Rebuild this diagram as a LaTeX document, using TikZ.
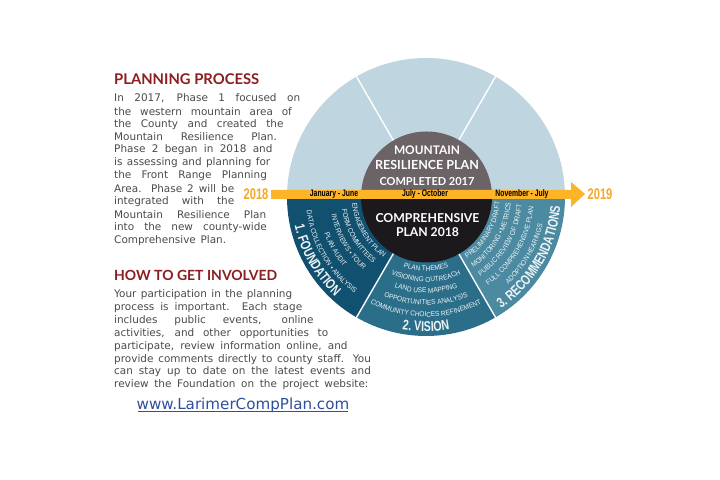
\documentclass[tikz,border=0pt]{standalone}
\usepackage{fontspec}
\usepackage{graphicx}
\usetikzlibrary{decorations.text}
\setmainfont{DejaVu Sans}
\newfontfamily\headfont{Lato}
\newfontfamily\condfont[FakeStretch=0.72]{Liberation Sans}
\newfontfamily\labelfont[FakeStretch=0.92]{Liberation Sans}
\newfontfamily\titlefont[FakeStretch=0.75]{Liberation Sans}
\definecolor{bodygray}{HTML}{4A4A4A}
\definecolor{headred}{HTML}{8C1D20}
\definecolor{linkblue}{HTML}{2F4F9E}
\definecolor{lightseg}{HTML}{BFD5DF}
\definecolor{segA}{HTML}{11506F}
\definecolor{segB}{HTML}{2B6E89}
\definecolor{segC}{HTML}{4C8AA1}
\definecolor{topgray}{HTML}{6B6365}
\definecolor{botblack}{HTML}{1B191C}
\definecolor{bandorange}{HTML}{FDB427}
\definecolor{yearorange}{HTML}{F6A821}
\definecolor{lbl}{HTML}{EDF3F6}
\tikzset{
  bodyline/.style={anchor=west,inner sep=0pt,text=bodygray,font=\fontsize{10.5}{12}\selectfont},
  heading/.style={anchor=base west,inner sep=0pt,text=headred,font=\headfont\bfseries\fontsize{14.5}{16}\selectfont},
  circletext/.style={inner sep=0pt,text=white,font=\headfont\bfseries},
  bandlabel/.style={inner sep=0pt,text=black,font=\condfont\bfseries\fontsize{9.5}{11}\selectfont},
  yearlabel/.style={inner sep=0pt,text=yearorange,font=\condfont\bfseries\fontsize{15.5}{17}\selectfont},
  sepline/.style={draw=white,line width=1.4pt}
}
\newcommand{\bline}[4]{\node[bodyline] (#1) at (114,#2) {\makebox[#3bp][s]{#4}};}
\newcommand{\arclabel}[5]{% radius, start, end, font, text
  \path[decorate,decoration={text along path,text align=center,text color=lbl,
    text={|#4|#5}}] (#2:#1) arc[start angle=#2,end angle=#3,radius=#1];}
\newcommand{\smallf}{\labelfont\fontsize{7.1}{9}\selectfont}
\newcommand{\bigf}{\titlefont\bfseries\fontsize{14.2}{16}\selectfont}
\begin{document}
\begin{tikzpicture}[x=1bp,y=1bp]
\useasboundingbox (0,0) rectangle (720,480);
\fill[white] (0,0) rectangle (720,480);
\begin{scope}[shift={(426,283)}]
  \fill[lightseg] (180:139) arc[start angle=180,end angle=0,radius=139] -- cycle;
  \fill[segA] (0,0) -- (180:139) arc[start angle=180,end angle=240,radius=139] -- cycle;
  \fill[segB] (0,0) -- (240:139) arc[start angle=240,end angle=300,radius=139] -- cycle;
  \fill[segC] (0,0) -- (300:139) arc[start angle=300,end angle=360,radius=139] -- cycle;
  \foreach \a in {60,120,240,300} \draw[sepline] (\a:60) -- (\a:139.5);
  \fill[topgray] (0.5,0) ++(180:65.5) arc[start angle=180,end angle=0,radius=65.5] -- cycle;
  \fill[botblack] (0.5,0) ++(180:65.5) arc[start angle=180,end angle=360,radius=65.5] -- cycle;
  % sector 1
  \arclabel{74}{180}{240}{\smallf}{ENGAGEMENT PLAN}
  \arclabel{85}{180}{240}{\smallf}{FORM COMMITTEES}
  \arclabel{96}{180}{240}{\smallf}{INTERVIEWS • TOUR}
  \arclabel{108}{180}{240}{\smallf}{PLAN AUDIT}
  \arclabel{120}{180}{240}{\smallf}{DATA COLLECTION • ANALYSIS}
  \arclabel{134.5}{180}{240}{\bigf}{1. FOUNDATION}
  % sector 2
  \arclabel{74}{240}{300}{\smallf}{PLAN THEMES}
  \arclabel{85}{240}{300}{\smallf}{VISIONING OUTREACH}
  \arclabel{96}{240}{300}{\smallf}{LAND USE MAPPING}
  \arclabel{108}{240}{300}{\smallf}{OPPORTUNITIES ANALYSIS}
  \arclabel{120}{240}{300}{\smallf}{COMMUNITY CHOICES REFINEMENT}
  \arclabel{134.5}{240}{300}{\bigf}{2. VISION}
  % sector 3
  \arclabel{74}{300}{360}{\smallf}{PRELIMINARY DRAFT}
  \arclabel{85}{300}{360}{\smallf}{MONITORING • METRICS}
  \arclabel{96}{300}{360}{\smallf}{PUBLIC REVIEW OF DRAFT}
  \arclabel{108}{300}{360}{\smallf}{FULL COMPREHENSIVE PLAN}
  \arclabel{120}{300}{360}{\smallf}{ADOPTION HEARINGS}
  \arclabel{134.5}{300}{360}{\bigf}{3. RECOMMENDATIONS}
\end{scope}
% band and arrow
\fill[bandorange] (271,290) -- (571,290) -- (571,298) -- (585,286) -- (571,273) -- (571,281) -- (271,281) -- cycle;
\node[bandlabel] (jan) at (334,286) {January - June};
\node[bandlabel] (jul) at (425,286) {July - October};
\node[bandlabel] (nov) at (522,286) {November - July};
\node[yearlabel] (y18) at (256,286) {2018};
\node[yearlabel] (y19) at (600,286) {2019};
% centre texts
\node[circletext] (t1) at (427,330) {\resizebox{66bp}{!}{MOUNTAIN}};
\node[circletext] (t2) at (427,315) {\resizebox{104bp}{!}{RESILIENCE PLAN}};
\node[circletext] (t3) at (427,298) {\resizebox{95bp}{!}{COMPLETED 2017}};
\node[circletext] (t4) at (427.5,262) {\resizebox{104bp}{!}{COMPREHENSIVE}};
\node[circletext] (t5) at (427.5,248) {\resizebox{63bp}{!}{PLAN 2018}};
% left text
\node[heading] (h1) at (114,395) {\resizebox{145bp}{!}{PLANNING PROCESS}};
\bline{a1}{381.7}{186}{In 2017, Phase 1 focused on}
\bline{a2}{368.7}{177.7}{the western mountain area of}
\bline{a3}{355.7}{169.3}{the County and created the}
\bline{a4}{343}{162.7}{Mountain Resilience Plan.}
\bline{a5}{330}{158.3}{Phase 2 began in 2018 and}
\bline{a6}{317}{156}{is assessing and planning for}
\bline{a7}{304}{152.7}{the Front Range Planning}
\bline{a8}{291}{120}{Area. Phase 2 will be}
\bline{a9}{278.3}{120}{integrated with the}
\bline{a10}{265.3}{152}{Mountain Resilience Plan}
\bline{a11}{252.3}{152.7}{into the new county-wide}
\bline{a12}{239.3}{112}{Comprehensive Plan.}
\node[heading] (h2) at (114,199) {\resizebox{163bp}{!}{HOW TO GET INVOLVED}};
\bline{b1}{185.3}{178}{Your participation in the planning}
\bline{b2}{172.3}{188}{process is important. Each stage}
\bline{b3}{159.6}{199.3}{includes public events, online}
\bline{b4}{146.7}{214}{activities, and other opportunities to}
\bline{b5}{133.7}{233.3}{participate, review information online, and}
\bline{b6}{120.7}{256.7}{provide comments directly to county staff. You}
\bline{b7}{107.9}{256.7}{can stay up to date on the latest events and}
\bline{b8}{95}{254.3}{review the Foundation on the project website:}
\node[inner sep=0pt,anchor=base,text=linkblue] (link) at (243,70.5) {\fontsize{15.2}{17}\selectfont www.LarimerCompPlan.com};
\draw[linkblue,line width=.7pt] (138,68.5) -- (348,68.5);
\end{tikzpicture}
\end{document}
